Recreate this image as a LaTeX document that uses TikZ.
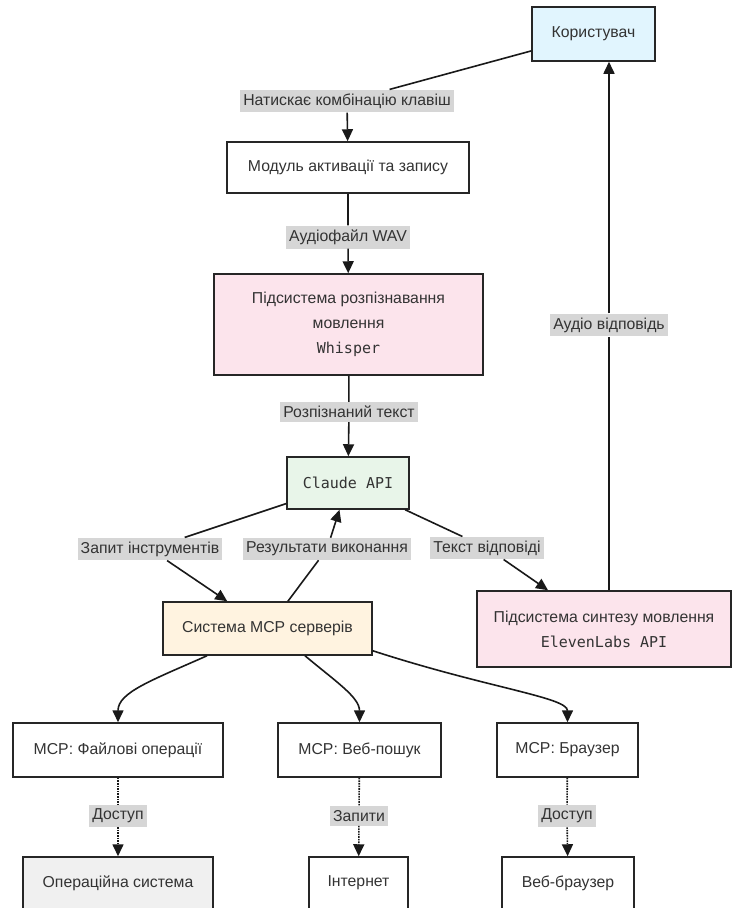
\documentclass[tikz,border=0pt]{standalone}
\usepackage{fontspec}
\setmainfont{Liberation Sans}
\setmonofont{DejaVu Sans Mono}
\usetikzlibrary{arrows.meta}

\definecolor{userblue}{HTML}{E1F5FE}
\definecolor{speechpink}{HTML}{FCE4EC}
\definecolor{claudegreen}{HTML}{E8F5E9}
\definecolor{mcporange}{HTML}{FFF3E0}
\definecolor{osgrey}{HTML}{F0F0F0}
\newcommand\apifont{\fontsize{15}{25}\selectfont\ttfamily}

\begin{document}
\begin{tikzpicture}[x=1pt,y=1pt,
  font=\fontsize{15.8}{25}\selectfont,
  box/.style={draw=black!85,line width=1.5pt,text=black!80,align=center,inner sep=0pt},
  lbl/.style={fill=gray!32,text=black!80,inner xsep=3pt,inner ysep=4pt},
  arr/.style={-{Triangle[length=12pt,width=11pt]},line width=1.6pt,draw=black!90},
  acc/.style={arr,densely dotted}]

  \useasboundingbox (0,0) rectangle (734,-908);

  % Main chain
  \node[box,fill=userblue,minimum width=123,minimum height=54] (user) at (593.5,-34) {Користувач};
  \node[box,minimum width=242,minimum height=51] (rec) at (348,-167.5) {Модуль активації та запису};
  \node[box,fill=speechpink,minimum width=269,minimum height=101] (stt) at (348.5,-324.5)
      {Підсистема розпізнавання\\мовлення\\{\apifont Whisper}};
  \node[box,fill=claudegreen,minimum width=122,minimum height=52] (claude) at (348,-483) {\apifont Claude API};
  \node[box,fill=mcporange,minimum width=209,minimum height=53] (mcp) at (267.5,-628.5) {Система MCP серверів};
  \node[box,fill=speechpink,minimum width=254,minimum height=76] (tts) at (604,-629)
      {Підсистема синтезу мовлення\\{\apifont ElevenLabs API}};

  % MCP servers
  \node[box,minimum width=210,minimum height=54] (files) at (118,-750) {MCP: Файлові операції};
  \node[box,minimum width=163,minimum height=54] (search) at (359.5,-750) {MCP: Веб-пошук};
  \node[box,minimum width=141,minimum height=54] (browser) at (567.5,-750) {MCP: Браузер};

  % Targets
  \node[box,fill=osgrey,minimum width=190,minimum height=52] (os) at (118,-883) {Операційна система};
  \node[box,minimum width=99,minimum height=52] (net) at (358.5,-883) {Інтернет};
  \node[box,minimum width=132,minimum height=52] (web) at (568,-883) {Веб-браузер};

  % Edge labels
  \node[lbl] (lkey) at (347,-101) {Натискає комбінацію клавіш};
  \node[lbl] (lwav) at (348,-237) {Аудіофайл WAV};
  \node[lbl] (ltext) at (349,-412) {Розпізнаний текст};
  \node[lbl] (ltool) at (150,-549) {Запит інструментів};
  \node[lbl] (lres) at (327,-549) {Результати виконання};
  \node[lbl] (lans) at (487,-548) {Текст відповіді};
  \node[lbl] (laudio) at (609,-325) {Аудіо відповідь};
  \node[lbl] (lacc1) at (118,-816) {Доступ};
  \node[lbl] (lreq) at (359,-816) {Запити};
  \node[lbl] (lacc2) at (567,-816) {Доступ};

  % Flows
  \draw[arr] (user) -- (lkey) -- (rec);
  \draw[arr] (rec) -- (lwav) -- (stt);
  \draw[arr] (stt) -- (ltext) -- (claude);
  \draw[arr] (claude) -- (ltool) -- (mcp);
  \draw[arr] (mcp) -- (lres) -- (claude);
  \draw[arr] (claude) -- (lans) -- (tts);
  \draw[arr] (tts.north -| laudio) -- (laudio) -- (user.south -| laudio);

  \draw[arr] ([xshift=-60.5pt]mcp.south) .. controls +(-156:60) and +(90:30) .. (files.north);
  \draw[arr] ([xshift=37.5pt]mcp.south) .. controls +(-40:40) and +(90:25) .. (search.north);
  \draw[arr] ([yshift=5pt]mcp.south east) .. controls +(-18:120) and +(90:25) .. (browser.north);

  \draw[acc] (files) -- (lacc1) -- (os);
  \draw[acc] (search) -- (lreq) -- (net);
  \draw[acc] (browser) -- (lacc2) -- (web);

\end{tikzpicture}
\end{document}
